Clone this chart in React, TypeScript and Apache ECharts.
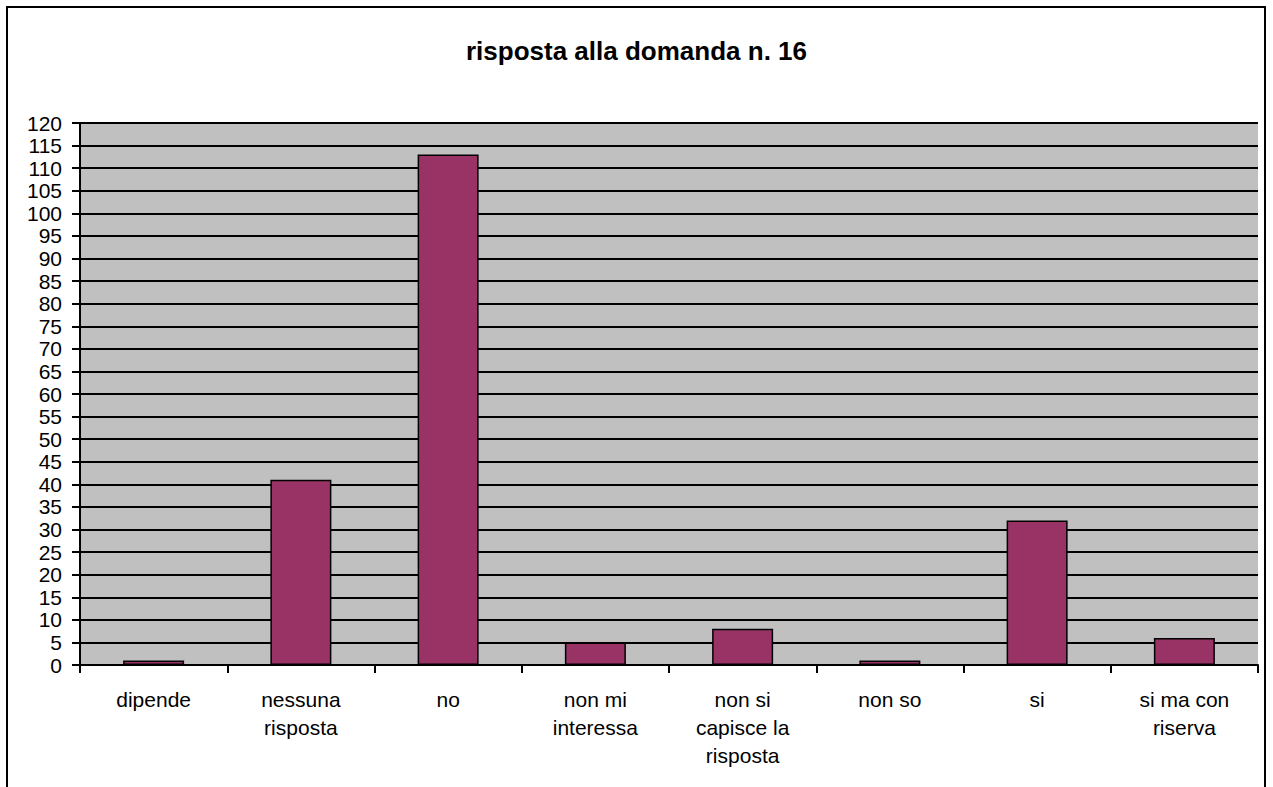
import React, { useEffect, useRef } from "react";
import * as echarts from "echarts";

const categories = [
  "dipende",
  "nessuna\nrisposta",
  "no",
  "non mi\ninteressa",
  "non si\ncapisce la\nrisposta",
  "non so",
  "si",
  "si ma con\nriserva",
];
const values = [1, 41, 113, 5, 8, 1, 32, 6];
const title = "risposta alla domanda n. 16";

export default function App() {
  const ref = useRef<HTMLDivElement>(null);
  useEffect(() => {
    if (!ref.current) return;
    const chart = echarts.init(ref.current, null, { renderer: "svg" });
    const font = "'Liberation Sans', Arial, sans-serif";
    chart.setOption({
      animation: false,
      backgroundColor: "#ffffff",
      title: {
        text: title,
        left: "center",
        top: 33,
        textStyle: { fontFamily: font, fontSize: 26, fontWeight: "bold", color: "#000" },
      },
      graphic: [
        {
          type: "rect",
          shape: { x: 7, y: 7, width: 1258, height: 800 },
          style: { fill: "none", stroke: "#000", lineWidth: 2 },
          silent: true,
        },
      ],
      grid: {
        left: 80,
        top: 123,
        width: 1178,
        height: 542,
        show: true,
        backgroundColor: "#C0C0C0",
        borderWidth: 0,
      },
      xAxis: {
        type: "category",
        data: categories,
        axisLine: { show: true, lineStyle: { color: "#000", width: 2 } },
        axisTick: { show: true, alignWithLabel: false, length: 8, lineStyle: { color: "#000", width: 2 } },
        axisLabel: {
          fontFamily: font,
          fontSize: 21,
          color: "#000",
          margin: 20,
          lineHeight: 28,
          interval: 0,
        },
        splitLine: { show: false },
      },
      yAxis: {
        type: "value",
        min: 0,
        max: 120,
        interval: 5,
        axisLine: { show: true, lineStyle: { color: "#000", width: 2 } },
        axisTick: { show: true, length: 8, lineStyle: { color: "#000", width: 2 } },
        axisLabel: { fontFamily: font, fontSize: 21, color: "#000", margin: 18, lineHeight: 21 },
        splitLine: { show: true, lineStyle: { color: "#000", width: 2 } },
      },
      series: [
        {
          type: "bar",
          data: values,
          barWidth: 61,
          itemStyle: { color: "#993366", borderColor: "#000", borderWidth: 1.5 },
        },
      ],
    });
    return () => chart.dispose();
  }, []);
  return (
    <div
      ref={ref}
      style={{ position: "absolute", left: 0, top: 0, width: 1273, height: 787 }}
    />
  );
}
